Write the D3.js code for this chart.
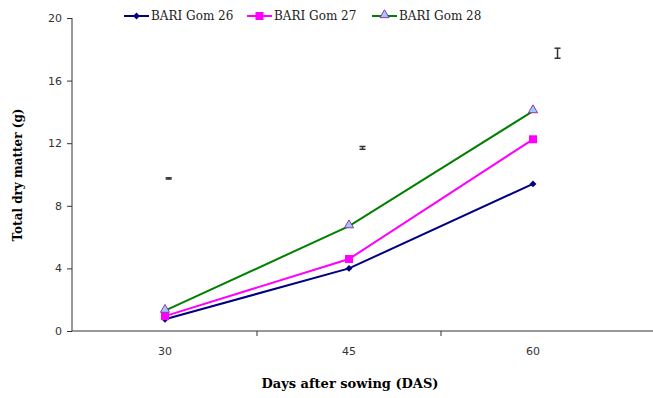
<!DOCTYPE html>
<html>
<head>
<meta charset="utf-8">
<script src="https://cdn.jsdelivr.net/npm/d3@7"></script>
<style>
  body { margin: 0; background: #fff; }
</style>
</head>
<body>
<div id="chart"></div>
<script>
  const days = [30, 45, 60];
  const gom26 = [0.75, 4.0, 9.4];
  const gom27 = [0.95, 4.6, 12.25];
  const gom28 = [1.3, 6.7, 14.05];
  const seriesNames = ["BARI Gom 26", "BARI Gom 27", "BARI Gom 28"];
  const yTicks = [0, 4, 8, 12, 16, 20];
  // LSD bars, drawn a bit right of each date
  const lsdDay = [30.3, 46.1, 62.0];
  const lsdMid = [9.75, 11.7, 17.75];
  const lsdHalf = [0.04, 0.09, 0.32];

  const width = 653, height = 398;
  const colors = ["#000080", "#ff00ff", "#008000"];

  const svg = d3.select("#chart")
    .append("svg")
    .attr("width", width)
    .attr("height", height);

  const x = d3.scaleLinear().domain([22.5, 67.5]).range([73, 625]);
  const y = d3.scaleLinear().domain([0, 20]).range([331, 18]);

  // y axis
  const yAxis = svg.append("g")
    .attr("transform", "translate(72,0)")
    .call(d3.axisLeft(y).tickValues(yTicks).tickSize(5).tickPadding(5));
  yAxis.select(".domain").attr("stroke", "#333").attr("d", `M0,${y(20)}V${y(0)}`);
  yAxis.selectAll(".tick line").attr("stroke", "#333");
  yAxis.selectAll(".tick text")
    .attr("fill", "#333")
    .attr("font-family", "DejaVu Sans, Verdana, sans-serif")
    .attr("font-size", 11);

  // x axis: category boundary ticks only
  svg.append("line")
    .attr("x1", 72).attr("x2", width)
    .attr("y1", y(0)).attr("y2", y(0))
    .attr("stroke", "#333");
  svg.selectAll(".xb")
    .data([37.5, 52.5])
    .join("line")
    .attr("x1", d => x(d)).attr("x2", d => x(d))
    .attr("y1", y(0)).attr("y2", y(0) + 5)
    .attr("stroke", "#333");
  svg.selectAll(".xl")
    .data(days)
    .join("text")
    .attr("x", d => x(d))
    .attr("y", y(0) + 24)
    .attr("text-anchor", "middle")
    .attr("fill", "#333")
    .attr("font-family", "DejaVu Sans, Verdana, sans-serif")
    .attr("font-size", 11)
    .text(d => d);

  // titles
  svg.append("text")
    .attr("x", 350).attr("y", 388)
    .attr("text-anchor", "middle")
    .attr("font-family", "DejaVu Serif, serif")
    .attr("font-weight", "bold")
    .attr("font-size", 13)
    .text("Days after sowing (DAS)");
  svg.append("text")
    .attr("transform", "translate(22,175) rotate(-90)")
    .attr("text-anchor", "middle")
    .attr("font-family", "DejaVu Serif, serif")
    .attr("font-weight", "bold")
    .attr("font-size", 12)
    .text("Total dry matter (g)");

  // LSD bars
  const lsd = lsdDay.map((d, i) => ({ d, lo: lsdMid[i] - lsdHalf[i], hi: lsdMid[i] + lsdHalf[i] }));
  const eb = svg.append("g").attr("stroke", "#333").attr("stroke-width", 1.5);
  eb.selectAll(".v").data(lsd).join("line")
    .attr("x1", e => x(e.d)).attr("x2", e => x(e.d))
    .attr("y1", e => y(e.lo)).attr("y2", e => y(e.hi));
  eb.selectAll(".t").data(lsd.flatMap(e => [[e.d, e.lo], [e.d, e.hi]])).join("line")
    .attr("x1", e => x(e[0]) - 3).attr("x2", e => x(e[0]) + 3)
    .attr("y1", e => y(e[1])).attr("y2", e => y(e[1]));

  // series
  const series = [gom26, gom27, gom28];
  const line = d3.line().x((v, i) => x(days[i])).y(v => y(v));

  const marker = (g, k, cx, cy) => {
    if (k === 0) {
      g.append("path")
        .attr("d", d3.symbol(d3.symbolDiamond2, 30)())
        .attr("transform", `translate(${cx},${cy})`)
        .attr("fill", colors[0]);
    } else if (k === 1) {
      g.append("rect")
        .attr("x", cx - 4).attr("y", cy - 4)
        .attr("width", 8).attr("height", 8)
        .attr("fill", colors[1]);
    } else {
      g.append("path")
        .attr("d", d3.symbol(d3.symbolTriangle, 36)())
        .attr("transform", `translate(${cx},${cy - 1})`)
        .attr("fill", "#99ccff")
        .attr("stroke", "#993399")
        .attr("stroke-width", 1);
    }
  };

  series.forEach((vals, k) => {
    const g = svg.append("g");
    g.append("path")
      .attr("d", line(vals))
      .attr("fill", "none")
      .attr("stroke", colors[k])
      .attr("stroke-width", 2);
    vals.forEach((v, i) => marker(g, k, x(days[i]), y(v)));
  });

  // legend
  const legX = [124, 247, 372];
  seriesNames.forEach((name, k) => {
    const g = svg.append("g");
    g.append("line")
      .attr("x1", legX[k]).attr("x2", legX[k] + 25)
      .attr("y1", 16).attr("y2", 16)
      .attr("stroke", colors[k]).attr("stroke-width", 2);
    marker(g, k, legX[k] + 12.5, 16);
    g.append("text")
      .attr("x", legX[k] + 27).attr("y", 20)
      .attr("font-family", "DejaVu Serif, serif")
      .attr("font-size", 12)
      .attr("fill", "#222")
      .text(name);
  });
</script>
</body>
</html>
